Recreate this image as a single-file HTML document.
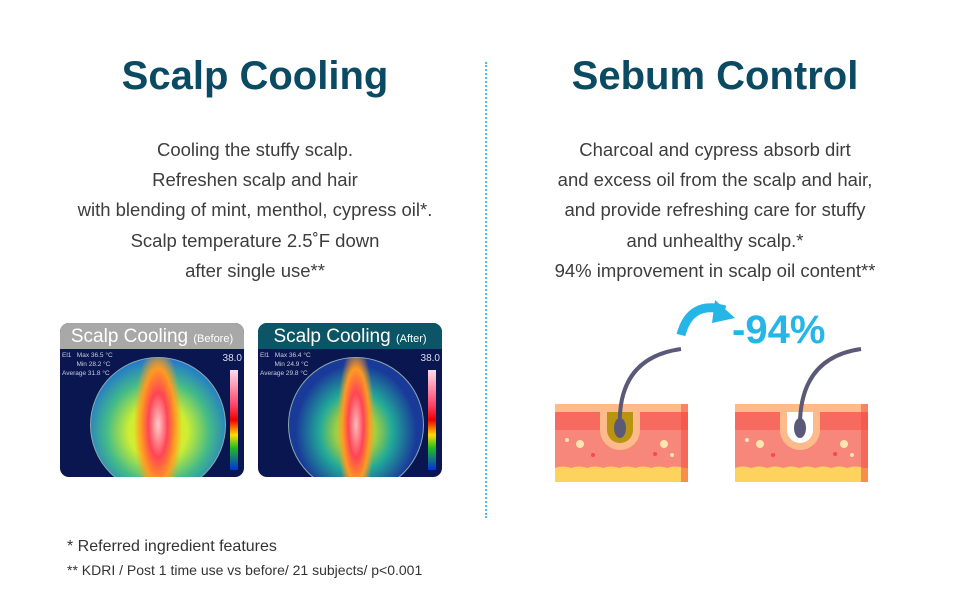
<!DOCTYPE html>
<html><head><meta charset="utf-8"><style>
body{margin:0;width:970px;height:600px;background:#fff;position:relative;overflow:hidden;font-family:"Liberation Sans",Arial,sans-serif}
.t{position:absolute;font-weight:bold;font-size:40px;color:#0a4a62;text-align:center;width:480px;top:54px}
.p{position:absolute;font-size:18.5px;color:#3d3d3d;text-align:center;width:480px;line-height:30.2px;top:135px}
.img{position:absolute;top:323px;width:184px;height:154px;border-radius:9px;overflow:hidden;background:#0a1650}
.hd{height:26px;color:#fff;font-size:19px;text-align:center;line-height:28px}
.hd small{font-size:11px}
.circ{position:absolute;left:30px;top:34px;width:134px;height:134px;border-radius:50%;border:1px solid #8aa}
.bar{position:absolute;right:6px;top:47px;width:8px;height:100px;background:linear-gradient(#fde,#f46 35%,#e00 50%,#fd0 65%,#2b2 78%,#03d)}
.info{position:absolute;left:2px;top:28px;font-size:6.5px;color:#ccd;line-height:9px}
.n{position:absolute;right:2px;top:30px;font-size:10px;color:#dde}
.f{position:absolute;left:67px;color:#333}
</style></head><body>
<div class="t" style="left:15px">Scalp Cooling</div>
<div class="t" style="left:475px">Sebum Control</div>
<div style="position:absolute;left:485px;top:62px;height:456px;border-left:2px dotted #49c0e8"></div>
<div class="p" style="left:15px">Cooling the stuffy scalp.<br>Refreshen scalp and hair<br>with blending of mint, menthol, cypress oil*.<br>Scalp temperature 2.5˚F down<br>after single use**</div>
<div class="p" style="left:475px">Charcoal and cypress absorb dirt<br>and excess oil from the scalp and hair,<br>and provide refreshing care for stuffy<br>and unhealthy scalp.*<br>94% improvement in scalp oil content**</div>

<div class="img" style="left:60px">
<div class="hd" style="background:#a8a8a8">Scalp Cooling <small>(Before)</small></div>
<div class="circ" style="background:radial-gradient(ellipse 18% 60% at 50% 50%,#fcc 0%,#f45 40%,#f92 70%,transparent 100%),radial-gradient(ellipse 55% 55% at 50% 55%,#fd2 0%,#ce3 40%,#4b8 70%,#27c 100%)"></div>
<div class="info">El1 &nbsp;&nbsp;Max 36.5 °C<br>&nbsp;&nbsp;&nbsp;&nbsp;&nbsp;&nbsp;&nbsp;&nbsp;Min 28.2 °C<br>Average 31.8 °C</div>
<div class="n">38.0</div><div class="bar"></div></div>

<div class="img" style="left:258px">
<div class="hd" style="background:#0c5566">Scalp Cooling <small>(After)</small></div>
<div class="circ" style="background:radial-gradient(ellipse 14% 60% at 50% 50%,#fbb 0%,#f45 40%,#f92 70%,transparent 100%),radial-gradient(ellipse 45% 50% at 50% 55%,#fd3 0%,#9c4 35%,#2a9 60%,#1a3a9a 100%)"></div>
<div class="info">El1 &nbsp;&nbsp;Max 36.4 °C<br>&nbsp;&nbsp;&nbsp;&nbsp;&nbsp;&nbsp;&nbsp;&nbsp;Min 24.9 °C<br>Average 29.8 °C</div>
<div class="n">38.0</div><div class="bar"></div></div>

<svg style="position:absolute;left:0;top:0" width="970" height="600">
<defs><clipPath id="c"><rect x="555" y="404" width="133" height="78"/></clipPath></defs>
<path d="M681 335 Q690 300 725 310" stroke="#25b5e6" stroke-width="9" fill="none"/>
<polygon points="715,300 735,318 712,323" fill="#25b5e6"/>
<text x="732" y="343" font-family="Liberation Sans" font-weight="bold" font-size="40" fill="#25b5e6">-94%</text>
<g id="s" clip-path="url(#c)">
<rect x="555" y="404" width="133" height="78" fill="#fdd25d"/>
<rect x="555" y="404" width="133" height="64" fill="#f8877b"/>
<rect x="555" y="404" width="133" height="26" fill="#f76a60"/>
<rect x="555" y="404" width="133" height="8" fill="#fdbb8c"/>
<path d="M555 468 q8 -3 16 0 q8 -3 16 0 q8 -3 16 0 q8 -3 16 0 q8 -3 16 0 q8 -3 16 0 q8 -3 16 0 q8 -3 17 0 v14 h-133z" fill="#fdd25d"/>
<rect x="681" y="404" width="7" height="78" fill="#f24b3b" opacity="0.5"/>
<circle cx="580" cy="444" r="4" fill="#fde5b0"/><circle cx="664" cy="444" r="4" fill="#fde5b0"/>
<circle cx="567" cy="440" r="2" fill="#fde5b0"/><circle cx="672" cy="455" r="2" fill="#fde5b0"/>
<circle cx="593" cy="455" r="2" fill="#f45"/><circle cx="655" cy="454" r="2" fill="#f45"/>
</g>
<use href="#s" x="180"/>
<path d="M600 404 v26 a20 20 0 0 0 40 0 v-26z" fill="#fdbb8c"/>
<path d="M607 412 v18 a13 13 0 0 0 26 0 v-18z" fill="#b89411"/>
<path d="M780 404 v26 a20 20 0 0 0 40 0 v-26z" fill="#fdbb8c"/>
<path d="M787 412 v18 a13 13 0 0 0 26 0 v-18z" fill="#fff"/>
<path d="M620 430 Q616 358 681 349" stroke="#5a5a78" stroke-width="4" fill="none"/>
<path d="M800 430 Q798 358 861 349" stroke="#5a5a78" stroke-width="4" fill="none"/>
<ellipse cx="620" cy="428" rx="6" ry="10" fill="#5a5a78"/>
<ellipse cx="800" cy="428" rx="6" ry="10" fill="#5a5a78"/>
</svg>
<div class="f" style="top:538px;font-size:16px">* Referred ingredient features</div>
<div class="f" style="top:562px;font-size:14px">** KDRI / Post 1 time use vs before/ 21 subjects/ p&lt;0.001</div>
</body></html>
